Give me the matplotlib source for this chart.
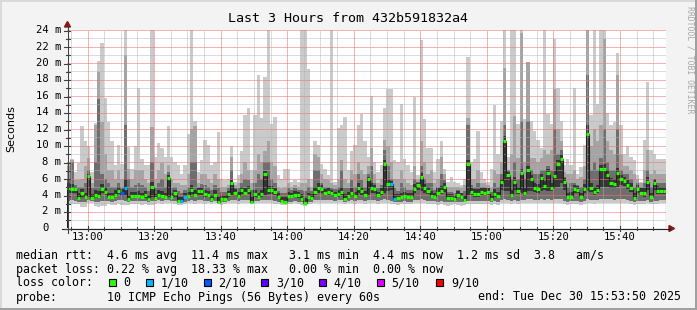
import numpy as np
import matplotlib
matplotlib.use("Agg")
import matplotlib.pyplot as plt
from matplotlib.patches import Polygon, Rectangle
from matplotlib.lines import Line2D

# ---------------- data (one value per minute, 12:53:50 .. 15:53:50) ----------------
rtt_median = [
    4.9, 4.7, 4.7, 3.6, 4.2, 3.7, 6.3, 3.6, 4.0, 3.9,
    4.7, 4.4, 3.8, 3.7, 4.0, 4.5, 4.2, 4.9, 3.5, 3.9,
    3.9, 3.9, 3.7, 3.95, 3.5, 5.0, 3.6, 4.0, 3.9, 3.8,
    6.1, 3.75, 4.2, 3.3, 3.25, 3.8, 3.9, 4.6, 4.0, 4.5,
    4.5, 4.1, 4.0, 3.5, 4.0, 3.2, 3.5, 3.5, 4.1, 5.4,
    4.3, 3.9, 4.6, 4.3, 4.6, 3.2, 4.1, 3.8, 4.1, 6.5,
    4.6, 4.6, 4.4, 3.7, 3.3, 3.2, 3.9, 3.85, 4.0, 3.95,
    3.5, 3.05, 3.8, 3.6, 4.4, 4.8, 4.7, 4.2, 4.4, 4.2,
    3.95, 4.1, 4.4, 3.5, 3.9, 4.3, 3.9, 4.8, 4.5, 3.95,
    5.9, 4.85, 4.7, 3.95, 4.4, 7.8, 5.3, 5.3, 3.55, 3.6,
    3.8, 3.9, 3.75, 3.8, 4.7, 5.2, 6.2, 4.8, 4.5, 3.9,
    3.8, 4.3, 4.5, 5.0, 3.6, 3.6, 3.5, 4.0, 3.7, 3.4,
    7.7, 4.4, 4.15, 4.15, 4.4, 4.3, 4.4, 3.5, 4.1, 3.85,
    5.6, 10.6, 6.4, 4.0, 5.6, 4.5, 6.7, 4.2, 7.0, 5.9,
    4.9, 4.7, 6.1, 5.1, 6.7, 4.9, 6.3, 7.7, 8.4, 5.6,
    3.75, 3.8, 4.7, 4.6, 3.75, 4.75, 11.4, 4.9, 4.4, 4.6,
    7.1, 7.1, 6.4, 5.5, 5.3, 6.7, 5.9, 5.7, 5.2, 4.9,
    3.6, 4.7, 4.3, 4.2, 5.6, 3.7, 5.5, 4.5, 4.5, 4.5,
]
rtt_max = [
    8.0, 8.4, 6.8, 7.9, 12.4, 10.5, 9.9, 6.8, 12.7, 20.2,
    22.4, 15.8, 12.8, 10.5, 7.6, 10.1, 7.8, 24.2, 9.8, 7.2,
    9.9, 17.0, 8.4, 7.6, 7.6, 24.2, 8.6, 10.3, 9.7, 8.6,
    12.4, 8.6, 8.0, 7.6, 6.6, 7.6, 11.4, 24.2, 13.0, 6.8,
    8.2, 10.7, 10.1, 7.6, 8.0, 11.6, 6.0, 5.8, 6.0, 9.9,
    5.6, 6.4, 9.3, 13.7, 14.6, 7.0, 13.7, 18.6, 13.3, 18.3,
    24.2, 12.6, 13.4, 6.4, 6.0, 7.2, 7.2, 5.6, 5.8, 5.6,
    24.2, 24.2, 19.3, 6.0, 10.5, 10.1, 7.8, 7.2, 6.4, 24.2,
    5.6, 12.1, 12.5, 13.4, 7.0, 9.3, 10.1, 12.5, 13.8, 10.5,
    8.6, 16.0, 8.0, 6.8, 7.6, 14.5, 16.8, 16.8, 8.2, 8.0,
    15.0, 8.4, 7.6, 6.8, 15.9, 6.4, 22.8, 13.2, 9.7, 9.7,
    6.8, 8.4, 10.5, 7.2, 5.6, 6.2, 5.6, 5.4, 5.2, 6.0,
    20.7, 8.0, 8.4, 11.8, 6.8, 6.0, 5.6, 7.2, 14.9, 9.0,
    13.0, 24.2, 8.6, 24.2, 24.2, 12.6, 24.2, 13.2, 20.1, 13.0,
    11.8, 10.7, 9.7, 24.2, 13.8, 12.6, 22.9, 17.0, 13.0, 7.6,
    8.4, 7.6, 17.0, 6.6, 7.4, 10.1, 24.2, 13.7, 24.2, 15.0,
    24.2, 24.2, 13.9, 12.5, 12.8, 21.2, 12.5, 9.0, 9.9, 8.6,
    8.2, 6.4, 5.6, 10.7, 17.7, 9.5, 9.0, 8.4, 8.4, 8.4,
]
rtt_upper = [
    7.5, 8.2, 5.8, 5.8, 6.0, 7.5, 8.5, 5.5, 12.5, 18.9,
    12.9, 9.0, 7.0, 7.0, 6.0, 7.0, 6.0, 21.0, 7.2, 6.0,
    7.0, 7.0, 7.0, 6.0, 5.5, 12.2, 6.0, 7.0, 7.9, 6.5,
    7.6, 6.0, 5.5, 5.5, 5.2, 5.2, 6.5, 12.0, 12.4, 5.5,
    6.5, 6.5, 6.0, 5.5, 6.5, 6.0, 5.0, 5.0, 5.2, 8.6,
    5.2, 5.5, 6.5, 8.0, 7.0, 5.5, 7.0, 9.0, 8.0, 9.3,
    10.5, 8.0, 7.5, 5.0, 4.8, 5.0, 5.5, 5.0, 5.2, 5.0,
    5.5, 5.5, 6.0, 5.0, 9.0, 8.6, 6.5, 6.0, 5.8, 5.5,
    5.2, 6.0, 8.2, 6.0, 5.5, 7.0, 6.5, 8.0, 7.0, 6.5,
    7.5, 9.7, 6.5, 5.5, 6.0, 10.7, 10.0, 8.0, 6.0, 6.0,
    7.0, 6.0, 5.5, 5.2, 7.5, 5.8, 10.5, 8.0, 6.5, 7.0,
    5.5, 6.0, 8.6, 6.5, 5.0, 5.0, 5.0, 5.0, 4.8, 5.2,
    13.3, 6.0, 6.0, 7.0, 5.5, 5.5, 5.2, 5.0, 7.0, 6.5,
    8.0, 19.4, 7.0, 9.0, 13.6, 8.5, 23.6, 8.0, 20.1, 8.5,
    8.5, 8.0, 8.5, 9.5, 9.0, 9.5, 16.9, 12.0, 10.5, 6.8,
    6.5, 6.5, 7.0, 6.0, 6.2, 7.5, 24.2, 10.0, 12.0, 10.5,
    12.5, 22.9, 10.5, 9.5, 9.0, 18.5, 9.0, 7.5, 7.5, 7.0,
    6.5, 6.0, 5.5, 7.0, 9.5, 6.5, 7.0, 6.5, 6.5, 6.5,
]
rtt_dark = [
    6.0, 8.0, 5.2, 5.0, 5.0, 5.5, 7.0, 4.8, 8.0, 15.6,
    6.5, 6.0, 5.5, 5.0, 5.0, 5.5, 5.0, 12.5, 6.0, 5.0,
    5.2, 5.5, 5.2, 5.0, 4.5, 8.0, 4.8, 5.5, 6.0, 5.0,
    6.8, 4.8, 5.0, 4.5, 4.3, 4.6, 5.0, 8.0, 8.0, 5.0,
    5.3, 5.2, 5.0, 4.6, 5.2, 4.8, 4.4, 4.4, 4.8, 7.0,
    4.9, 4.8, 5.5, 6.0, 5.8, 4.6, 5.5, 6.5, 6.0, 8.0,
    8.0, 6.0, 5.5, 4.5, 4.2, 4.2, 4.8, 4.6, 4.8, 4.6,
    4.6, 4.5, 5.0, 4.5, 7.0, 7.0, 5.5, 5.0, 5.0, 4.8,
    4.7, 5.0, 7.0, 4.8, 4.8, 5.8, 5.0, 6.5, 5.8, 5.0,
    6.5, 7.5, 5.5, 4.8, 5.2, 9.5, 7.5, 6.0, 4.8, 4.5,
    5.5, 5.0, 4.6, 4.6, 6.0, 5.6, 7.5, 6.0, 5.5, 5.5,
    4.6, 5.0, 6.5, 5.8, 4.4, 4.4, 4.3, 4.6, 4.3, 4.5,
    12.5, 5.2, 5.0, 5.5, 5.0, 5.0, 4.9, 4.4, 5.5, 5.0,
    6.5, 12.5, 7.0, 6.0, 8.0, 6.0, 13.0, 6.0, 13.0, 7.0,
    6.5, 6.5, 7.0, 7.0, 7.5, 7.0, 12.0, 9.0, 9.5, 6.2,
    5.0, 5.5, 5.5, 5.2, 5.0, 6.0, 18.5, 7.0, 8.0, 7.0,
    8.5, 12.0, 8.0, 7.0, 7.0, 12.0, 7.0, 6.5, 6.5, 6.0,
    5.0, 5.5, 5.0, 5.5, 7.0, 5.0, 6.0, 5.5, 5.5, 5.5,
]
rtt_core_hi = [
    5.4, 5.3, 5.0, 4.2, 4.7, 4.3, 6.6, 4.1, 4.6, 4.5,
    5.3, 5.0, 4.3, 4.2, 4.6, 5.0, 4.7, 6.0, 4.0, 4.4,
    4.4, 4.5, 4.2, 4.5, 4.0, 5.6, 4.1, 4.6, 4.5, 4.3,
    6.4, 4.2, 4.6, 3.8, 3.8, 4.3, 4.4, 5.2, 4.6, 4.9,
    5.0, 4.6, 4.5, 4.0, 4.6, 3.8, 4.0, 4.0, 4.5, 5.8,
    4.7, 4.4, 5.0, 4.9, 5.1, 3.8, 4.6, 4.3, 4.6, 6.9,
    5.1, 5.1, 4.9, 4.2, 3.8, 3.8, 4.4, 4.3, 4.5, 4.4,
    4.1, 3.6, 4.3, 4.1, 5.0, 5.4, 5.2, 4.7, 4.8, 4.6,
    4.4, 4.6, 5.0, 4.1, 4.4, 4.9, 4.4, 5.4, 5.0, 4.5,
    6.2, 5.4, 5.2, 4.4, 4.9, 8.3, 5.9, 5.7, 4.1, 4.1,
    4.3, 4.4, 4.2, 4.3, 5.3, 5.5, 6.7, 5.3, 5.0, 4.5,
    4.3, 4.8, 5.1, 5.5, 4.1, 4.1, 4.0, 4.5, 4.2, 4.0,
    8.2, 4.9, 4.7, 4.7, 4.9, 4.8, 4.8, 4.0, 4.7, 4.4,
    6.0, 11.2, 6.8, 4.6, 6.2, 5.0, 7.2, 4.8, 7.5, 6.4,
    5.5, 5.3, 6.6, 5.7, 7.2, 5.5, 6.9, 8.3, 9.0, 6.1,
    4.3, 4.4, 5.2, 5.1, 4.3, 5.3, 12.5, 5.5, 5.0, 5.2,
    7.6, 7.7, 7.0, 6.1, 5.9, 7.3, 6.4, 6.2, 5.8, 5.5,
    4.2, 5.2, 4.8, 4.8, 6.2, 4.3, 6.0, 5.1, 5.0, 5.0,
]
rtt_core_lo = [
    4.3, 4.2, 4.2, 3.5, 3.8, 3.5, 3.7, 3.5, 3.7, 3.6,
    4.2, 4.0, 3.6, 3.5, 3.7, 4.1, 3.9, 4.0, 3.4, 3.6,
    3.6, 3.6, 3.5, 3.6, 3.4, 3.8, 3.5, 3.7, 3.6, 3.6,
    3.8, 3.6, 3.8, 3.2, 3.15, 3.5, 3.6, 4.1, 3.7, 4.0,
    4.0, 3.8, 3.7, 3.4, 3.7, 3.1, 3.3, 3.3, 3.7, 4.0,
    3.9, 3.6, 4.1, 3.9, 4.1, 3.1, 3.7, 3.6, 3.7, 4.0,
    4.1, 4.1, 4.0, 3.5, 3.2, 3.1, 3.6, 3.6, 3.7, 3.6,
    3.3, 3.0, 3.6, 3.4, 4.0, 4.3, 4.2, 3.9, 4.0, 3.9,
    3.7, 3.8, 4.0, 3.4, 3.6, 3.9, 3.6, 4.2, 4.0, 3.7,
    4.0, 4.3, 4.2, 3.7, 4.0, 4.2, 4.5, 4.6, 3.4, 3.4,
    3.6, 3.6, 3.5, 3.6, 4.2, 4.6, 4.5, 4.3, 4.1, 3.6,
    3.6, 3.9, 4.1, 4.4, 3.4, 3.4, 3.3, 3.7, 3.5, 3.3,
    4.0, 4.0, 3.8, 3.8, 4.0, 3.9, 4.0, 3.4, 3.8, 3.6,
    4.6, 4.5, 4.5, 3.7, 4.6, 4.1, 4.2, 3.9, 4.5, 4.5,
    4.4, 4.3, 4.5, 4.6, 4.5, 4.5, 4.8, 5.0, 5.5, 4.6,
    3.5, 3.6, 4.2, 4.2, 3.5, 4.3, 4.5, 4.4, 4.0, 4.2,
    5.0, 5.0, 5.0, 4.9, 4.8, 5.0, 5.2, 5.1, 4.7, 4.4,
    3.4, 4.2, 3.9, 3.8, 4.6, 3.5, 4.6, 4.1, 4.1, 4.1,
]
rtt_low = [
    3.3, 3.4, 3.3, 3.2, 3.2, 3.2, 3.4, 3.3, 3.2, 3.2,
    3.3, 3.3, 3.3, 3.2, 3.3, 3.4, 3.4, 3.3, 3.2, 3.3,
    3.3, 3.3, 3.3, 3.3, 3.2, 3.3, 3.3, 3.4, 3.3, 3.4,
    3.4, 3.3, 3.3, 3.0, 3.0, 3.2, 3.3, 3.4, 3.3, 3.4,
    3.4, 3.3, 3.3, 3.2, 3.3, 3.0, 3.1, 3.1, 3.3, 3.4,
    3.4, 3.3, 3.4, 3.4, 3.4, 3.0, 3.3, 3.3, 3.4, 3.4,
    3.4, 3.4, 3.3, 3.2, 3.0, 3.0, 3.2, 3.2, 3.3, 3.2,
    3.1, 2.9, 3.2, 3.2, 3.4, 3.4, 3.4, 3.4, 3.4, 3.4,
    3.3, 3.4, 3.4, 3.2, 3.3, 3.4, 3.3, 3.4, 3.4, 3.3,
    3.4, 3.4, 3.4, 3.3, 3.4, 3.5, 3.4, 3.3, 3.2, 3.1,
    3.2, 3.3, 3.2, 3.2, 3.4, 3.4, 3.5, 3.4, 3.3, 3.3,
    3.3, 3.2, 3.3, 3.2, 3.1, 3.2, 3.2, 3.2, 3.1, 3.1,
    3.3, 3.3, 3.3, 3.3, 3.3, 3.3, 3.3, 3.1, 3.3, 3.2,
    3.4, 3.5, 3.4, 3.3, 3.4, 3.3, 3.4, 3.4, 3.5, 3.5,
    3.4, 3.4, 3.5, 3.4, 3.5, 3.4, 3.5, 3.5, 3.5, 3.3,
    3.2, 3.3, 3.3, 3.3, 3.2, 3.3, 3.5, 3.4, 3.4, 3.4,
    3.5, 3.5, 3.5, 3.5, 3.4, 3.5, 3.5, 3.5, 3.4, 3.3,
    3.2, 3.3, 3.3, 3.3, 3.4, 3.2, 3.3, 3.3, 3.4, 3.4,
]
rtt_min = [
    2.8, 2.9, 2.9, 2.9, 2.5, 2.6, 3.0, 3.0, 2.7, 2.6,
    2.7, 2.7, 2.9, 2.8, 2.8, 2.9, 2.8, 2.8, 2.8, 2.9,
    2.9, 2.9, 2.8, 2.9, 2.8, 2.8, 2.9, 3.0, 2.9, 3.0,
    3.0, 3.0, 2.9, 2.8, 2.8, 2.9, 3.0, 3.0, 2.9, 3.0,
    3.0, 2.9, 3.0, 2.9, 3.0, 2.9, 2.8, 2.9, 3.0, 3.0,
    3.0, 2.9, 3.0, 3.0, 3.0, 2.9, 3.0, 3.0, 3.0, 3.0,
    3.0, 3.0, 2.9, 2.9, 2.8, 2.8, 2.9, 2.9, 3.0, 2.9,
    2.8, 2.7, 2.9, 2.9, 3.0, 3.0, 3.0, 3.0, 3.0, 3.0,
    3.0, 3.0, 3.0, 2.9, 3.0, 3.0, 2.9, 3.0, 3.0, 2.9,
    3.0, 3.0, 3.0, 2.9, 3.0, 3.0, 3.0, 2.9, 2.9, 2.8,
    2.9, 2.9, 2.9, 2.9, 3.0, 3.0, 3.0, 3.0, 2.9, 2.9,
    2.9, 2.8, 2.9, 2.8, 2.7, 2.8, 2.9, 2.8, 2.7, 2.8,
    2.9, 2.9, 2.9, 2.9, 2.9, 2.9, 2.9, 2.8, 2.9, 2.8,
    3.0, 3.0, 3.0, 2.9, 3.0, 2.9, 3.0, 3.0, 3.0, 3.0,
    3.0, 3.0, 3.0, 3.0, 3.0, 3.0, 3.0, 3.0, 3.0, 2.9,
    2.8, 2.9, 2.9, 2.9, 2.8, 2.9, 3.0, 3.0, 2.9, 3.0,
    3.0, 3.0, 3.0, 3.0, 3.0, 3.0, 3.0, 3.0, 3.0, 2.9,
    2.8, 2.9, 2.9, 2.9, 3.0, 2.9, 2.9, 2.9, 3.0, 3.0,
]
loss_minutes = [16, 17, 34, 35, 97, 98]
loss_tenths = [2, 1, 1, 1, 1, 1]

loss_levels = ["0", "1/10", "2/10", "3/10", "4/10", "5/10", "9/10"]
loss_level_colors = ["#26ff00", "#00b8ff", "#0059ff", "#5e00ff", "#7e00ff", "#dd00ff", "#ff0000"]
tenth_to_color = {0: "#26ff00", 1: "#00b8ff", 2: "#0059ff", 3: "#5e00ff",
                  4: "#7e00ff", 5: "#dd00ff", 9: "#ff0000"}

time_labels = ["13:00", "13:20", "13:40", "14:00", "14:20", "14:40", "15:00", "15:20", "15:40"]
first_label_offset = 6 + 10 / 60.0   # minutes from 12:53:50 to 13:00
y_ticks = list(range(0, 25, 2))

title = "Last 3 Hours from 432b591832a4"
legend_rtt = "median rtt:  4.6 ms avg  11.4 ms max   3.1 ms min  4.4 ms now  1.2 ms sd  3.8   am/s"
legend_loss = "packet loss: 0.22 % avg  18.33 % max   0.00 % min  0.00 % now"
probe_text = "10 ICMP Echo Pings (56 Bytes) every 60s"
end_text = "end: Tue Dec 30 15:53:50 2025"

# ---------------- figure ----------------
W, H = 697, 310
fig = plt.figure(figsize=(W / 100, H / 100), dpi=100, facecolor="#f3f3f3")


def px(x):
    return x / W


def py(y):
    return 1 - y / H


X0, X1, YT, YB = 67, 666, 30, 228
ax = fig.add_axes([px(X0), py(YB), (X1 - X0) / W, (YB - YT) / H])
ax.set_facecolor("white")
ax.set_xlim(0, 180)
ax.set_ylim(0, 24)
for s in ax.spines.values():
    s.set_visible(False)
ax.set_xticks([])
ax.set_yticks([])

n = len(rtt_median)
edges = np.arange(n + 1)

ax.stairs(rtt_max, edges, baseline=rtt_min, fill=True, color="#cacaca", lw=0, zorder=1)
ax.stairs(rtt_upper, edges, baseline=rtt_low, fill=True, color="#a4a4a4", lw=0, zorder=2)
ax.stairs(rtt_dark, edges, baseline=rtt_low, fill=True, color="#6e6e6e", lw=0, zorder=3)
ax.stairs(rtt_core_hi, edges, baseline=rtt_core_lo, fill=True, color="#353535", lw=0, zorder=3.5)

# grid (dotted, drawn above smoke like rrdtool)
dot = (0, (1, 1))
major_col = (0.93, 0.45, 0.45, 0.55)
minor_col = (0.70, 0.70, 0.70, 0.45)
for v in range(1, 25):
    major = v % 2 == 0
    ax.axhline(v, color=major_col if major else minor_col, lw=0.72, ls=dot, zorder=4,
               antialiased=False)
minor_times = np.arange(first_label_offset - 5, 180, 5)
for k, t in enumerate(minor_times):
    major = (k - 1) % 4 == 0
    ax.axvline(t, color=major_col if major else minor_col, lw=0.72, ls=dot, zorder=4,
               antialiased=False)

# median line
ax.stairs(rtt_median, edges, color="#202020", lw=0.8, zorder=5)
seg_colors = ["#26ff00"] * n
for m, t in zip(loss_minutes, loss_tenths):
    seg_colors[m] = tenth_to_color[t]
ax.hlines(rtt_median, edges[:-1], edges[1:], colors=seg_colors, lw=2.3, zorder=6)

# axes lines + arrows
axis_col = "#404040"
arrow_col = "#801818"
fig.add_artist(Line2D([px(67.5), px(67.5)], [py(233), py(26)], color=axis_col, lw=0.8))
fig.add_artist(Line2D([px(62), px(670)], [py(228.5), py(228.5)], color="#202020", lw=0.8))
fig.add_artist(Polygon([[px(64.5), py(27)], [px(70.5), py(27)], [px(67.5), py(21.5)]],
                       closed=True, transform=fig.transFigure, color=arrow_col))
fig.add_artist(Polygon([[px(669), py(225.5)], [px(669), py(231.5)], [px(674.5), py(228.5)]],
                       closed=True, transform=fig.transFigure, color=arrow_col))

# ticks
to_px_x = lambda t: X0 + t / 180.0 * (X1 - X0)
to_px_y = lambda v: YB - v / 24.0 * (YB - YT)
for v in range(0, 25):
    yy = to_px_y(v) + 0.5
    x_a, x_b = (64, 70) if v % 2 == 0 else (65.5, 69.5)
    fig.add_artist(Line2D([px(x_a), px(x_b)], [py(yy), py(yy)], color=axis_col, lw=0.8))
for k, t in enumerate(minor_times):
    xx = to_px_x(t)
    major = (k - 1) % 4 == 0
    y_a, y_b = (226, 231) if major else (227, 230)
    fig.add_artist(Line2D([px(xx), px(xx)], [py(y_a), py(y_b)], color=axis_col, lw=0.8))

mono = "DejaVu Sans Mono"
for v in y_ticks:
    yy = to_px_y(v)
    if v == 0:
        fig.text(px(49), py(yy), "0", ha="right", va="center", family=mono, fontsize=7.6, color="#000000")
    else:
        fig.text(px(61), py(yy), f"{v} m", ha="right", va="center", family=mono, fontsize=7.6, color="#000000")
for k, lab in enumerate(time_labels):
    t = first_label_offset + 20 * k
    fig.text(px(to_px_x(t)), py(237.5), lab, ha="center", va="center", family=mono, fontsize=7.6)

# title, axis label, watermark
fig.text(px(348), py(19), title, ha="center", va="center", family=mono, fontsize=9.6)
fig.text(px(11), py(129), "Seconds", ha="center", va="center", rotation=90,
         family="DejaVu Sans", fontsize=8.0)
fig.text(px(690), py(60), "RRDTOOL / TOBI OETIKER", ha="center", va="center", rotation=270,
         family=mono, fontsize=5.9, color="#a8a8a8")

# legend
fs = 8.4
fig.text(px(16), py(255), legend_rtt, ha="left", va="center", family=mono, fontsize=fs)
fig.text(px(16), py(269), legend_loss, ha="left", va="center", family=mono, fontsize=fs)
fig.text(px(16), py(283), "loss color:", ha="left", va="center", family=mono, fontsize=fs)
sq_x = [108.5, 146, 203.5, 261, 318.5, 376.5, 436]
for xs, lab, col in zip(sq_x, loss_levels, loss_level_colors):
    fig.add_artist(Rectangle((px(xs), py(286)), 7 / W, 7 / H, transform=fig.transFigure,
                             facecolor=col, edgecolor="black", lw=0.8))
    fig.text(px(xs + 15), py(283), lab, ha="left", va="center", family=mono, fontsize=fs)
fig.text(px(16), py(297), "probe:", ha="left", va="center", family=mono, fontsize=fs)
fig.text(px(107), py(297), probe_text, ha="left", va="center", family=mono, fontsize=fs)
fig.text(px(681), py(297), end_text, ha="right", va="center", family=mono, fontsize=fs)

# image frame
fig.add_artist(Rectangle((0, py(1.5)), 1, 1.5 / H, transform=fig.transFigure, color="#dadada", lw=0))
fig.add_artist(Rectangle((0, 0), 1.5 / W, 1, transform=fig.transFigure, color="#dadada", lw=0))
fig.add_artist(Rectangle((0, 0), 1, 2.5 / H, transform=fig.transFigure, color="#a0a0a0", lw=0))
fig.add_artist(Rectangle((px(694.5), 0), 2.5 / W, 1, transform=fig.transFigure, color="#a0a0a0", lw=0))

fig.savefig("out.png", dpi=100, facecolor=fig.get_facecolor())
